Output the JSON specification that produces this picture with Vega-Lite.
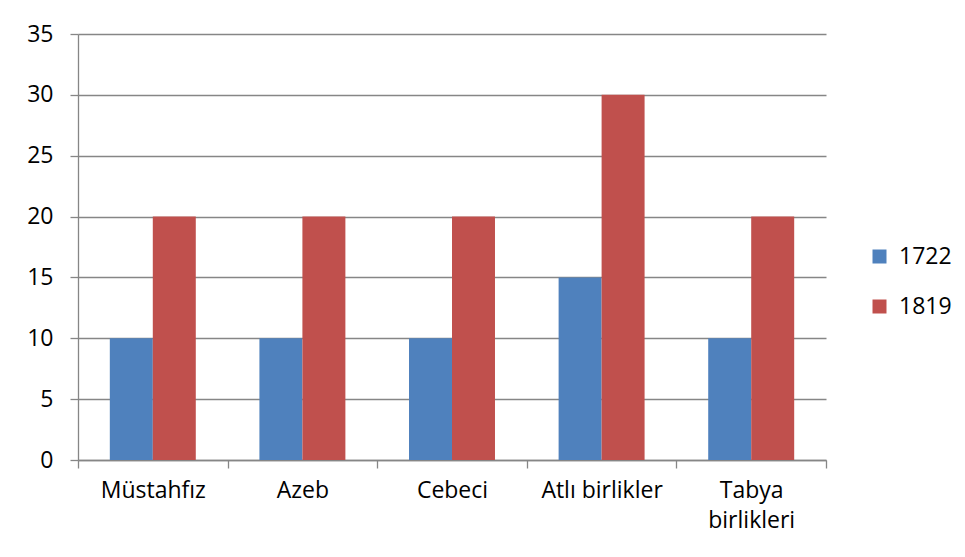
{
  "$schema": "https://vega.github.io/schema/vega-lite/v6.json",
  "autosize": {"type": "none"},
  "width": 748,
  "height": 426,
  "padding": {"left": 78, "top": 34, "right": 139, "bottom": 97},
  "background": "white",
  "config": {
    "font": "Open Sans",
    "view": {"stroke": null},
    "axis": {"labelFont": "Open Sans", "labelFontSize": 23, "labelColor": "#000000", "domainColor": "#868686", "tickColor": "#868686", "gridColor": "#868686", "gridOpacity": 1, "tickSize": 8, "domainWidth": 1.3, "tickWidth": 1.3, "gridWidth": 1.3, "title": null}
  },
  "data": {
    "values": [
      {"birlik": "Müstahfız", "yil": "1722", "deger": 10},
      {"birlik": "Müstahfız", "yil": "1819", "deger": 20},
      {"birlik": "Azeb", "yil": "1722", "deger": 10},
      {"birlik": "Azeb", "yil": "1819", "deger": 20},
      {"birlik": "Cebeci", "yil": "1722", "deger": 10},
      {"birlik": "Cebeci", "yil": "1819", "deger": 20},
      {"birlik": "Atlı birlikler", "yil": "1722", "deger": 15},
      {"birlik": "Atlı birlikler", "yil": "1819", "deger": 30},
      {"birlik": "Tabya birlikleri", "yil": "1722", "deger": 10},
      {"birlik": "Tabya birlikleri", "yil": "1819", "deger": 20}
    ]
  },
  "mark": {"type": "bar"},
  "encoding": {
    "x": {
      "field": "birlik", "type": "nominal", "sort": null,
      "scale": {"paddingInner": 0, "paddingOuter": 0},
      "axis": {"labelAngle": 0, "tickBand": "extent", "grid": false, "labelPadding": 11, "labelLineHeight": 30, "labelBaseline": "top",
               "labelExpr": "datum.label == 'Tabya birlikleri' ? ['Tabya', 'birlikleri'] : datum.label"}
    },
    "xOffset": {"field": "yil", "type": "nominal", "scale": {"paddingInner": 0, "paddingOuter": 0.74}},
    "y": {
      "field": "deger", "type": "quantitative",
      "scale": {"domain": [0, 35], "nice": false},
      "axis": {"values": [0, 5, 10, 15, 20, 25, 30, 35], "grid": true, "labelPadding": 17}
    },
    "color": {
      "field": "yil", "type": "nominal",
      "scale": {"domain": ["1722", "1819"], "range": ["#4F81BD", "#C0504D"]},
      "legend": {"title": null, "orient": "none", "legendX": 790, "legendY": 211, "padding": 0, "symbolType": "square", "symbolSize": 196, "symbolStrokeWidth": 0, "symbolOpacity": 1, "labelFontSize": 23, "labelFont": "Open Sans", "labelColor": "#000000", "labelOffset": 8, "rowPadding": 26}
    }
  }
}
